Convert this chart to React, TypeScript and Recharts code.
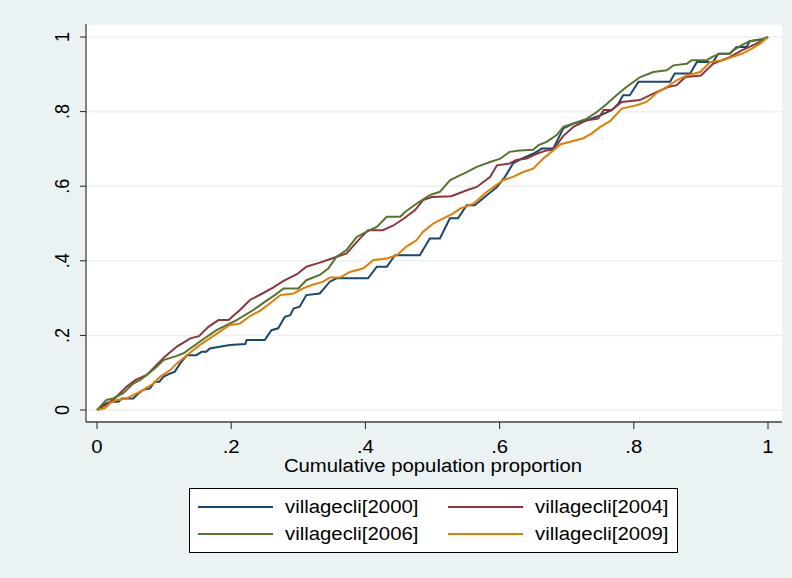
import React from 'react';
import { LineChart, Line, XAxis, YAxis, CartesianGrid, Label } from 'recharts';

// cumulative population proportion vs cumulative share, one curve per year
const years = ['2000', '2004', '2006', '2009'];
const colors = ['#1A476F', '#90353B', '#55752F', '#E37E00'];
const ticks = [0, 0.2, 0.4, 0.6, 0.8, 1];
const tickLabels = ['0', '.2', '.4', '.6', '.8', '1'];
const xTitle = 'Cumulative population proportion';

const curve2000: [number, number][] = [
  [0, 0], [0.014, 0.018], [0.022, 0.022], [0.032, 0.022], [0.037, 0.031], [0.054, 0.031], [0.062, 0.045],
  [0.069, 0.054], [0.079, 0.058], [0.086, 0.076], [0.093, 0.076], [0.099, 0.089], [0.109, 0.098],
  [0.116, 0.103], [0.124, 0.125], [0.134, 0.147], [0.148, 0.147], [0.156, 0.156], [0.163, 0.156],
  [0.168, 0.165], [0.198, 0.174], [0.221, 0.177], [0.223, 0.1875], [0.25, 0.1875], [0.26, 0.214],
  [0.27, 0.219], [0.28, 0.25], [0.288, 0.254], [0.293, 0.272], [0.302, 0.277], [0.312, 0.308],
  [0.332, 0.3125], [0.347, 0.344], [0.357, 0.353], [0.404, 0.353], [0.417, 0.384], [0.432, 0.384],
  [0.444, 0.415], [0.481, 0.415], [0.496, 0.46], [0.511, 0.46], [0.526, 0.514], [0.538, 0.514],
  [0.551, 0.549], [0.563, 0.549], [0.581, 0.576], [0.596, 0.598], [0.608, 0.625], [0.62, 0.661],
  [0.633, 0.674], [0.65, 0.687], [0.663, 0.701], [0.68, 0.701], [0.695, 0.755], [0.71, 0.768],
  [0.73, 0.777], [0.75, 0.79], [0.767, 0.804], [0.777, 0.821], [0.784, 0.844], [0.794, 0.844],
  [0.807, 0.88], [0.854, 0.88], [0.861, 0.902], [0.884, 0.902], [0.894, 0.933], [0.918, 0.933],
  [0.926, 0.955], [0.943, 0.955], [0.953, 0.973], [0.968, 0.973], [0.973, 0.989], [0.993, 0.995], [1, 1],
];

const curve2004: [number, number][] = [
  [0, 0], [0.01, 0.01], [0.024, 0.027], [0.044, 0.062], [0.057, 0.08], [0.074, 0.094], [0.091, 0.125],
  [0.101, 0.143], [0.119, 0.17], [0.139, 0.192], [0.152, 0.198], [0.166, 0.223], [0.181, 0.241],
  [0.196, 0.241], [0.213, 0.268], [0.228, 0.295], [0.245, 0.311], [0.263, 0.329], [0.278, 0.346],
  [0.298, 0.364], [0.312, 0.384], [0.332, 0.395], [0.35, 0.406], [0.372, 0.42], [0.392, 0.46],
  [0.404, 0.482], [0.426, 0.482], [0.441, 0.494], [0.458, 0.514], [0.474, 0.536], [0.486, 0.563],
  [0.499, 0.571], [0.528, 0.573], [0.551, 0.589], [0.566, 0.598], [0.586, 0.625], [0.596, 0.656],
  [0.615, 0.661], [0.625, 0.67], [0.64, 0.674], [0.655, 0.687], [0.67, 0.696], [0.68, 0.698],
  [0.695, 0.735], [0.71, 0.759], [0.73, 0.777], [0.747, 0.781], [0.755, 0.804], [0.767, 0.804],
  [0.782, 0.826], [0.809, 0.831], [0.829, 0.848], [0.851, 0.866], [0.864, 0.871], [0.877, 0.893],
  [0.9, 0.897], [0.918, 0.928], [0.943, 0.946], [0.961, 0.964], [0.978, 0.978], [0.993, 0.991], [1, 1],
];

const curve2006: [number, number][] = [
  [0, 0], [0.014, 0.027], [0.024, 0.031], [0.039, 0.045], [0.054, 0.071], [0.064, 0.08], [0.077, 0.098],
  [0.089, 0.116], [0.099, 0.134], [0.119, 0.145], [0.129, 0.152], [0.153, 0.183], [0.178, 0.214],
  [0.208, 0.241], [0.233, 0.268], [0.25, 0.29], [0.265, 0.308], [0.278, 0.326], [0.3, 0.326],
  [0.312, 0.348], [0.332, 0.362], [0.345, 0.38], [0.357, 0.411], [0.372, 0.429], [0.387, 0.464],
  [0.402, 0.478], [0.417, 0.491], [0.432, 0.518], [0.452, 0.518], [0.459, 0.531], [0.476, 0.553],
  [0.496, 0.576], [0.511, 0.585], [0.526, 0.616], [0.536, 0.625], [0.551, 0.638], [0.566, 0.652],
  [0.586, 0.665], [0.601, 0.674], [0.615, 0.692], [0.63, 0.696], [0.65, 0.698], [0.658, 0.71],
  [0.67, 0.719], [0.685, 0.737], [0.695, 0.759], [0.71, 0.768], [0.73, 0.781], [0.745, 0.799],
  [0.76, 0.821], [0.775, 0.845], [0.789, 0.866], [0.809, 0.892], [0.829, 0.906], [0.849, 0.911],
  [0.859, 0.924], [0.879, 0.928], [0.886, 0.938], [0.909, 0.938], [0.916, 0.946], [0.928, 0.955],
  [0.943, 0.955], [0.948, 0.964], [0.961, 0.978], [0.973, 0.989], [0.988, 0.991], [1, 1],
];

const curve2009: [number, number][] = [
  [0, 0], [0.012, 0.005], [0.019, 0.018], [0.029, 0.027], [0.044, 0.031], [0.054, 0.04], [0.069, 0.054],
  [0.084, 0.071], [0.094, 0.089], [0.109, 0.107], [0.119, 0.125], [0.134, 0.147], [0.153, 0.174],
  [0.168, 0.192], [0.183, 0.21], [0.198, 0.228], [0.213, 0.232], [0.228, 0.252], [0.243, 0.266],
  [0.258, 0.286], [0.273, 0.308], [0.293, 0.3125], [0.307, 0.326], [0.32, 0.335], [0.337, 0.344],
  [0.347, 0.355], [0.362, 0.355], [0.377, 0.37], [0.397, 0.38], [0.412, 0.402], [0.432, 0.406],
  [0.447, 0.415], [0.461, 0.438], [0.476, 0.455], [0.486, 0.478], [0.501, 0.5], [0.516, 0.514],
  [0.531, 0.527], [0.541, 0.54], [0.561, 0.553], [0.581, 0.585], [0.591, 0.598], [0.605, 0.616],
  [0.62, 0.625], [0.635, 0.638], [0.65, 0.647], [0.665, 0.674], [0.68, 0.696], [0.69, 0.712],
  [0.705, 0.719], [0.724, 0.728], [0.737, 0.741], [0.75, 0.759], [0.765, 0.775], [0.782, 0.808],
  [0.804, 0.817], [0.819, 0.826], [0.834, 0.85], [0.849, 0.866], [0.864, 0.884], [0.879, 0.897],
  [0.899, 0.906], [0.914, 0.933], [0.934, 0.938], [0.946, 0.946], [0.961, 0.955], [0.976, 0.969],
  [0.988, 0.982], [1, 1],
];

const curves = [curve2000, curve2004, curve2006, curve2009];

const FONT = '"Liberation Sans", Arial, Helvetica, sans-serif';
const FONT_SIZE = 18;
const STRETCH = 1.13; // stata output looks a bit wide
const BG = '#EAF2F3';

const fmt = (v: number) => tickLabels[ticks.findIndex((t) => Math.abs(t - v) < 1e-6)] ?? String(v);

const XTick = ({ x, y, payload }: any) => (
  <text
    transform={`translate(${x},${y + 22}) scale(${STRETCH},1)`}
    textAnchor="middle"
    fontFamily={FONT}
    fontSize={FONT_SIZE}
    fill="#000"
  >
    {fmt(payload.value)}
  </text>
);

const YTick = ({ y, payload }: any) => (
  <text
    transform={`translate(69,${y}) scale(${STRETCH},1) rotate(-90)`}
    textAnchor="middle"
    fontFamily={FONT}
    fontSize={FONT_SIZE}
    fill="#000"
  >
    {fmt(payload.value)}
  </text>
);

const XTitle = ({ viewBox }: any) => (
  <text
    transform={`translate(${viewBox.x + viewBox.width / 2 - 1},${viewBox.y + 50}) scale(${STRETCH},1)`}
    textAnchor="middle"
    fontFamily={FONT}
    fontSize={FONT_SIZE}
    fill="#000"
  >
    {xTitle}
  </text>
);

const LegendBox = () => (
  <div
    style={{
      position: 'absolute',
      left: 189,
      top: 488,
      width: 489,
      height: 65,
      boxSizing: 'border-box',
      border: '1px solid #000',
      background: '#fff',
    }}
  >
    {years.map((yr, i) => {
      const col = i % 2;
      const row = Math.floor(i / 2);
      const cy = row === 0 ? 17.5 : 45;
      return (
        <React.Fragment key={yr}>
          <div
            style={{
              position: 'absolute',
              left: col === 0 ? 8 : 258,
              top: cy - 1,
              width: 75,
              height: 2,
              background: colors[i],
            }}
          />
          <span
            style={{
              position: 'absolute',
              left: col === 0 ? 95 : 345,
              top: cy - 11,
              fontFamily: FONT,
              fontSize: FONT_SIZE,
              lineHeight: '22px',
              whiteSpace: 'nowrap',
              transform: `scaleX(${STRETCH})`,
              transformOrigin: 'left center',
              color: '#000',
            }}
          >
            {`villagecli[${yr}]`}
          </span>
        </React.Fragment>
      );
    })}
  </div>
);

export default function App() {
  return (
    <div style={{ position: 'absolute', left: 0, top: 0, width: 792, height: 578, background: BG }}>
      <LineChart width={792} height={578} margin={{ top: 24, right: 10, left: 0, bottom: 0 }}>
        <CartesianGrid horizontal vertical={false} fill="#fff" stroke={BG} strokeWidth={1.6} />
        <XAxis
          type="number"
          dataKey="x"
          domain={[0, 1]}
          ticks={ticks}
          height={156}
          padding={{ left: 11, right: 14 }}
          tickSize={7}
          tickMargin={2}
          tick={<XTick />}
          axisLine={{ stroke: '#444', strokeWidth: 1.3 }}
          tickLine={{ stroke: '#222', strokeWidth: 1 }}
          allowDuplicatedCategory={false}
        >
          <Label content={<XTitle />} />
        </XAxis>
        <YAxis
          type="number"
          domain={[0, 1]}
          ticks={ticks}
          width={86}
          padding={{ top: 13, bottom: 12 }}
          tickSize={6}
          tickMargin={2}
          tick={<YTick />}
          axisLine={{ stroke: '#444', strokeWidth: 1.3 }}
          tickLine={{ stroke: '#222', strokeWidth: 1 }}
        />
        {curves.map((c, i) => (
          <Line
            key={years[i]}
            data={c.map(([x, y]) => ({ x, y }))}
            dataKey="y"
            type="linear"
            stroke={colors[i]}
            strokeWidth={2}
            dot={false}
            activeDot={false}
            isAnimationActive={false}
          />
        ))}
      </LineChart>
      <LegendBox />
    </div>
  );
}
